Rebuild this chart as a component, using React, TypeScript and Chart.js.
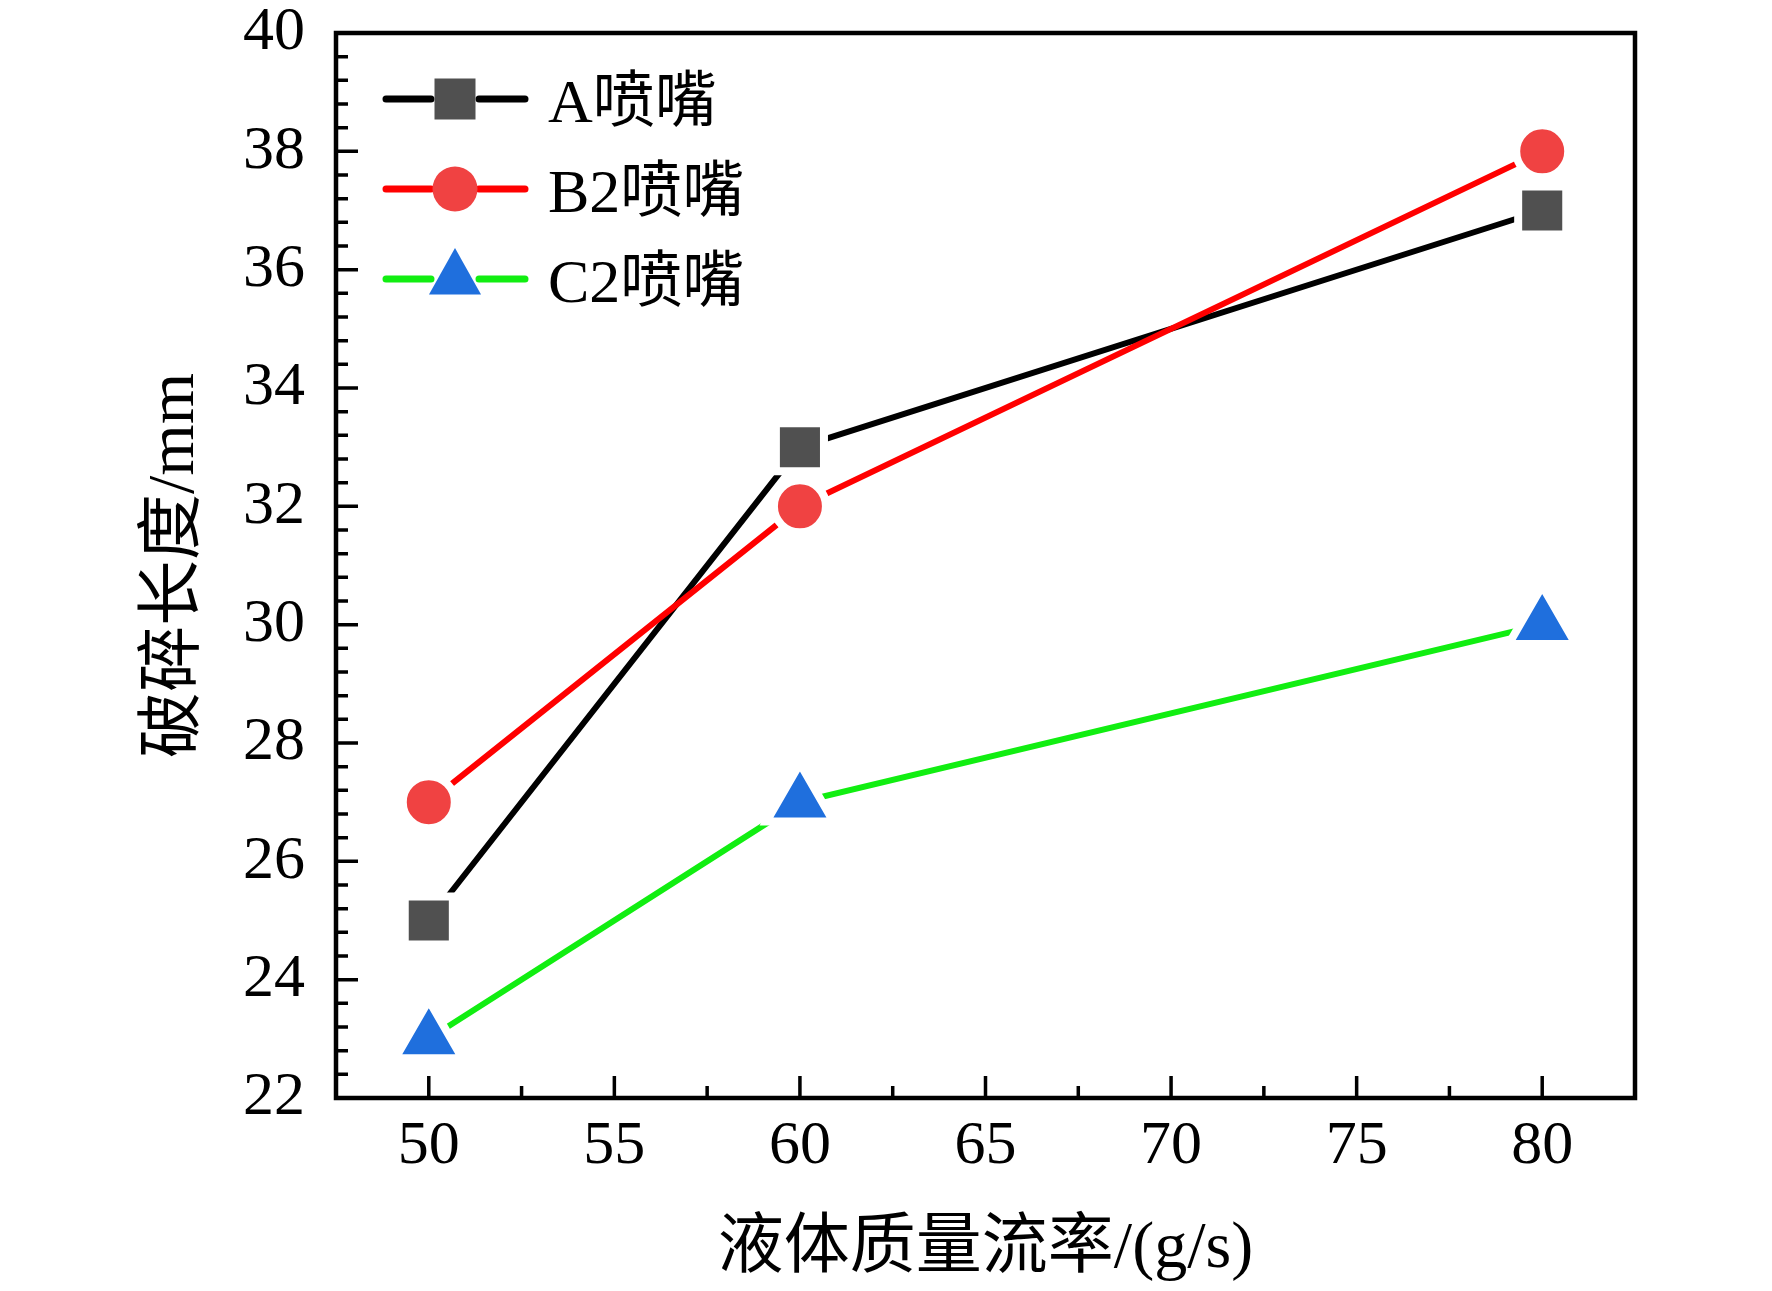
import React, { useEffect, useRef } from "react";
import { Chart, registerables, Plugin } from "chart.js";

Chart.register(...registerables);

// liquid mass flow rate (g/s) and break-up length (mm) per nozzle
const flowRates = [50, 60, 80];
const nozzleA = [25, 33, 37];
const nozzleB2 = [27, 32, 38];
const nozzleC2 = [23, 27, 30];
const seriesNames = ["A喷嘴", "B2喷嘴", "C2喷嘴"];

const xTickValues = [50, 55, 60, 65, 70, 75, 80];
const xMinorTicks = [52.5, 57.5, 62.5, 67.5, 72.5, 77.5];
const yTickValues = [22, 24, 26, 28, 30, 32, 34, 36, 38, 40];

const SERIF = '"Liberation Serif", "Times New Roman", "Noto Sans CJK SC", serif';

const toPoints = (ys: number[]) => flowRates.map((x, i) => ({ x, y: ys[i] }));

// Origin-like frame with inward ticks
const frameTicks: Plugin<"line"> = {
  id: "frameTicks",
  afterDatasetsDraw(chart) {
    const { ctx, chartArea, scales } = chart;
    const { left, right, top, bottom } = chartArea;
    ctx.save();
    ctx.strokeStyle = "#000";
    ctx.lineWidth = 3.5;
    ctx.beginPath();
    yTickValues.forEach((v, i) => {
      const py = scales.y.getPixelForValue(v);
      ctx.moveTo(left, py);
      ctx.lineTo(left + 22, py);
      if (i < yTickValues.length - 1) {
        const next = yTickValues[i + 1];
        for (let k = 1; k < 5; k++) {
          const my = scales.y.getPixelForValue(v + ((next - v) * k) / 5);
          ctx.moveTo(left, my);
          ctx.lineTo(left + 12, my);
        }
      }
    });
    xTickValues.forEach((v) => {
      const px = scales.x.getPixelForValue(v);
      ctx.moveTo(px, bottom);
      ctx.lineTo(px, bottom - 22);
    });
    xMinorTicks.forEach((v) => {
      const px = scales.x.getPixelForValue(v);
      ctx.moveTo(px, bottom);
      ctx.lineTo(px, bottom - 12);
    });
    ctx.stroke();
    ctx.lineWidth = 4.5;
    ctx.strokeRect(left, top, right - left, bottom - top);
    ctx.restore();
  },
};

// legend drawn as line - symbol - line, like the original figure
const nozzleLegend: Plugin<"line"> = {
  id: "nozzleLegend",
  afterDraw(chart) {
    const { ctx, chartArea } = chart;
    const { left, top } = chartArea;
    ctx.save();
    chart.data.datasets.forEach((ds: any, i) => {
      const y = top + 66 + i * 90;
      ctx.strokeStyle = ds.borderColor;
      ctx.lineWidth = 7;
      ctx.lineCap = "round";
      ctx.beginPath();
      ctx.moveTo(left + 50, y);
      ctx.lineTo(left + 95, y);
      ctx.moveTo(left + 143, y);
      ctx.lineTo(left + 189, y);
      ctx.stroke();

      const cx = left + 119;
      ctx.fillStyle = ds.pointBackgroundColor;
      ctx.beginPath();
      if (ds.pointStyle === "rect") {
        ctx.rect(cx - 20.5, y - 20.5, 41, 41);
      } else if (ds.pointStyle === "circle") {
        ctx.arc(cx, y, 22.5, 0, Math.PI * 2);
      } else {
        ctx.moveTo(cx, y - 31);
        ctx.lineTo(cx + 26, y + 15.5);
        ctx.lineTo(cx - 26, y + 15.5);
        ctx.closePath();
      }
      ctx.fill();

      ctx.fillStyle = "#000";
      ctx.font = `62px ${SERIF}`;
      ctx.textBaseline = "alphabetic";
      ctx.textAlign = "left";
      ctx.fillText(ds.label, left + 212, y + 23);
    });
    ctx.restore();
  },
};

export default function App() {
  const canvasRef = useRef<HTMLCanvasElement | null>(null);
  const chartRef = useRef<Chart | null>(null);

  useEffect(() => {
    if (!canvasRef.current) return;
    if (chartRef.current) chartRef.current.destroy();

    // white halo round each symbol leaves the small gap Origin puts between line and symbol
    const halo = { pointBorderColor: "#ffffff", pointBorderWidth: 8 };

    chartRef.current = new Chart(canvasRef.current, {
      type: "line",
      data: {
        datasets: [
          {
            label: seriesNames[0],
            data: toPoints(nozzleA),
            borderColor: "#000000",
            borderWidth: 6,
            pointStyle: "rect",
            pointRadius: 34,
            pointBackgroundColor: "#505050",
            order: 3,
            ...halo,
          },
          {
            label: seriesNames[1],
            data: toPoints(nozzleB2),
            borderColor: "#ff0000",
            borderWidth: 6,
            pointStyle: "circle",
            pointRadius: 26,
            pointBackgroundColor: "#f04242",
            order: 2,
            ...halo,
          },
          {
            label: seriesNames[2],
            data: toPoints(nozzleC2),
            borderColor: "#11ee11",
            borderWidth: 6,
            pointStyle: "triangle",
            pointRadius: 38.6,
            pointBackgroundColor: "#1f6fdd",
            order: 1,
            ...halo,
          },
        ],
      },
      options: {
        animation: false,
        responsive: true,
        maintainAspectRatio: false,
        events: [],
        layout: {
          autoPadding: false,
          padding: { top: 33, right: 137, left: 0, bottom: 0 },
        },
        plugins: {
          legend: { display: false },
          tooltip: { enabled: false },
        },
        scales: {
          x: {
            type: "linear",
            min: 47.5,
            max: 82.5,
            afterBuildTicks: (scale) => {
              scale.ticks = xTickValues.map((value) => ({ value }));
            },
            afterFit: (scale: any) => {
              scale.height = 193;
              scale.paddingLeft = 0;
              scale.paddingRight = 0;
            },
            grid: { display: false, drawTicks: false },
            border: { display: false },
            ticks: {
              color: "#000",
              padding: 12,
              maxRotation: 0,
              autoSkip: false,
              font: { family: SERIF, size: 62 },
            },
            title: {
              display: true,
              text: "液体质量流率/(g/s)",
              color: "#000",
              font: { family: SERIF, size: 66 },
              padding: { top: 0, bottom: 2 },
            },
          },
          y: {
            type: "linear",
            min: 22,
            max: 40,
            afterBuildTicks: (scale) => {
              scale.ticks = yTickValues.map((value) => ({ value }));
            },
            afterFit: (scale: any) => {
              scale.width = 336;
              scale.paddingTop = 0;
              scale.paddingBottom = 0;
            },
            grid: { display: false, drawTicks: false },
            border: { display: false },
            ticks: {
              color: "#000",
              padding: 31,
              autoSkip: false,
              font: { family: SERIF, size: 62 },
            },
            title: {
              display: true,
              text: "破碎长度/mm",
              color: "#000",
              font: { family: SERIF, size: 66 },
              padding: { top: 136, bottom: 0 },
            },
          },
        },
      },
      plugins: [frameTicks, nozzleLegend],
    });

    return () => {
      if (chartRef.current) {
        chartRef.current.destroy();
        chartRef.current = null;
      }
    };
  }, []);

  return (
    <div
      style={{
        position: "fixed",
        left: 0,
        top: 0,
        width: "1772px",
        height: "1291px",
        background: "#ffffff",
      }}
    >
      <canvas ref={canvasRef} />
    </div>
  );
}
